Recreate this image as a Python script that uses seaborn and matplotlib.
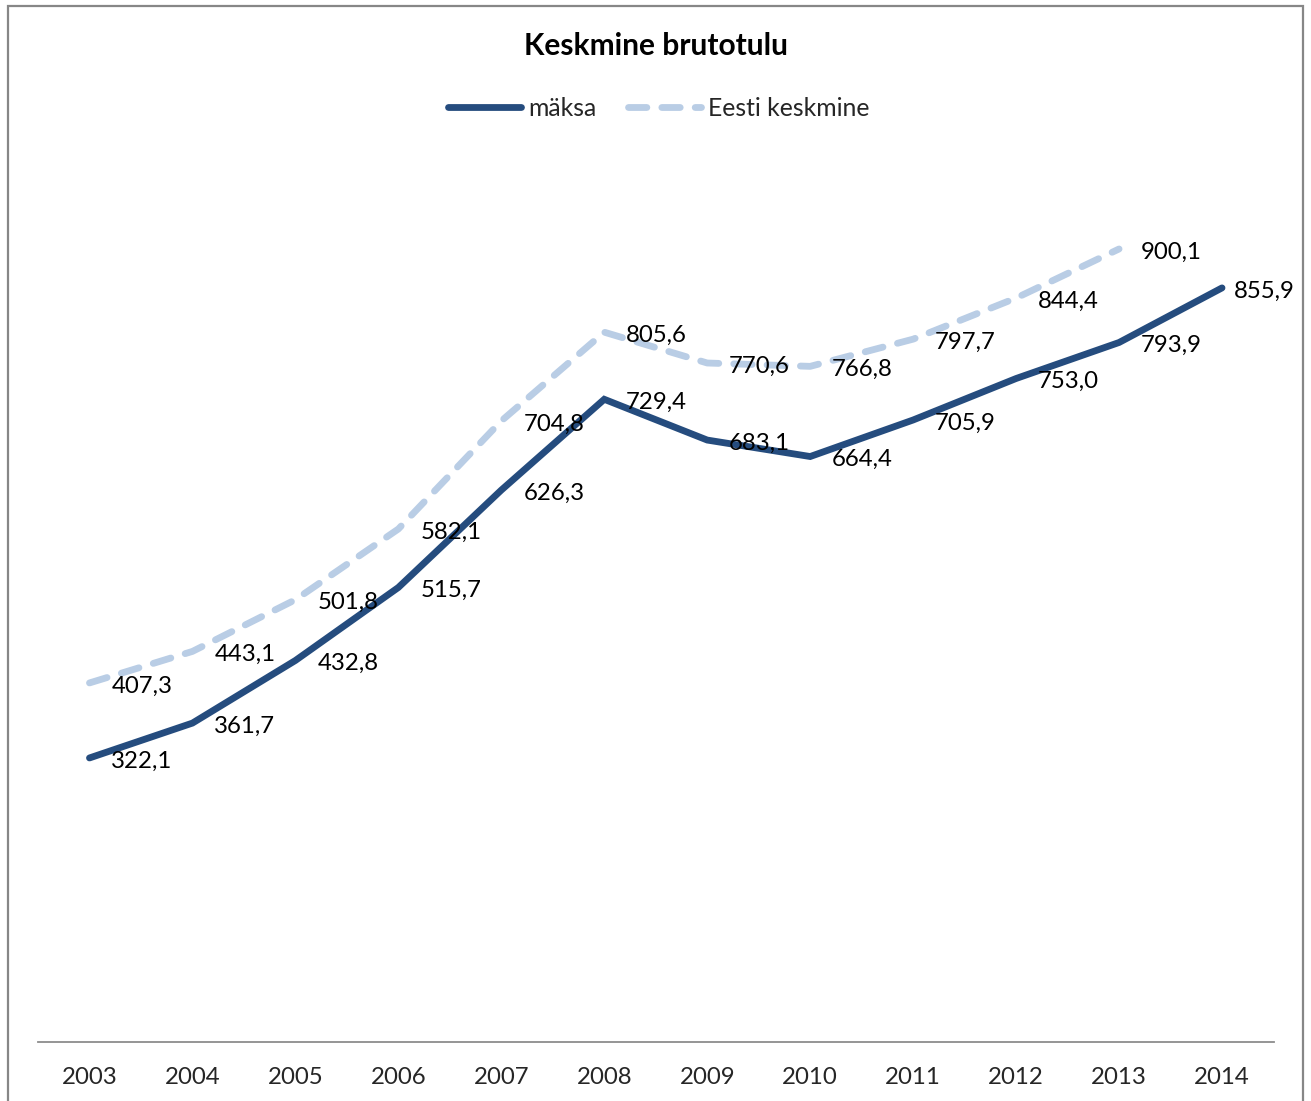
import matplotlib
matplotlib.use("Agg")
import matplotlib.pyplot as plt
import seaborn as sns
import pandas as pd
from matplotlib.patches import Rectangle

years = ["2003", "2004", "2005", "2006", "2007", "2008", "2009", "2010", "2011", "2012", "2013", "2014"]
maksa = [322.1, 361.7, 432.8, 515.7, 626.3, 729.4, 683.1, 664.4, 705.9, 753.0, 793.9, 855.9]
eesti = [407.3, 443.1, 501.8, 582.1, 704.8, 805.6, 770.6, 766.8, 797.7, 844.4, 900.1, None]

title = "Keskmine brutotulu"
series_names = ["mäksa", "Eesti keskmine"]

sns.set_theme(style="white")
plt.rcParams["font.family"] = ["Lato", "DejaVu Sans"]

W, H = 1311, 1101
fig = plt.figure(figsize=(W / 100, H / 100), dpi=100)
ax = fig.add_axes([38 / W, (H - 1041.6) / H, (1273.5 - 38) / W, (1041.6 - 161) / H])

x = list(range(len(years)))
df = pd.DataFrame({"x": x + x,
                   "value": maksa + eesti,
                   "series": [series_names[0]] * len(years) + [series_names[1]] * len(years)})
df = df.dropna()

dark = "#254C7E"
light = "#B9CDE5"
lw = 4.9
fs = 17.3
sns.lineplot(data=df[df.series == series_names[0]], x="x", y="value", ax=ax,
             color=dark, linewidth=lw, solid_joinstyle="miter",
             label=series_names[0], legend=False)
sns.lineplot(data=df[df.series == series_names[1]], x="x", y="value", ax=ax,
             color=light, linewidth=lw, label=series_names[1], legend=False)
l2 = ax.lines[1]
l2.set_dashes([2.7, 2.2])
l2.set_dash_capstyle("round")
l2.set_dash_joinstyle("round")
ax.lines[0].set_solid_capstyle("round")

ax.set_xlim(-0.5, len(years) - 0.5)
ax.set_ylim(0, 1000)
ax.set_xticks(x)
ax.set_xticklabels(years, fontsize=fs)
ax.tick_params(axis="x", length=0, pad=18)
ax.set_yticks([])
ax.set_xlabel("")
ax.set_ylabel("")
for s in ["top", "left", "right"]:
    ax.spines[s].set_visible(False)
ax.spines["bottom"].set_color("#8C8C8C")
ax.spines["bottom"].set_linewidth(1.3)
ax.patch.set_alpha(0)

def fmt(v):
    return f"{v:.1f}".replace(".", ",")

for series in (maksa, eesti):
    for i, v in enumerate(series):
        if v is None:
            continue
        off = 8.5 if i == len(years) - 1 else 15.8
        ax.annotate(fmt(v), (i, v), xytext=(off, -2.2), textcoords="offset points",
                    ha="left", va="center", fontsize=fs, color="black")

fig.text(0.5 + 0.5 / W, 1 - 46 / H, title, ha="center", va="center",
         fontsize=21.5, fontweight="bold", color="black")

leg = fig.legend(handles=ax.lines[:2], labels=series_names, loc="center",
                 bbox_to_anchor=(659 / W, 1 - 108 / H), ncol=2, frameon=False,
                 fontsize=fs + 0.5, handlelength=2.95, handletextpad=0.3, columnspacing=1.25)

fig.add_artist(Rectangle((7.5 / W, -0.05), (1302.5 - 7.5) / W, 1 - 5.5 / H + 0.05,
                         transform=fig.transFigure, fill=False,
                         edgecolor="#878787", linewidth=1.6))

fig.savefig("out.png", dpi=100)
